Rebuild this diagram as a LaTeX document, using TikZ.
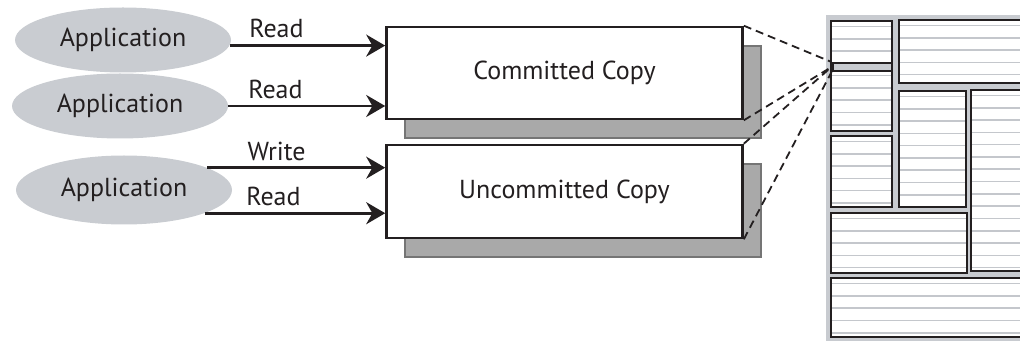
\documentclass[tikz,border=0pt]{standalone}
\usepackage{fontspec}
\setmainfont{PT Sans}
\usepackage{xcolor}
\usetikzlibrary{shapes,arrows,positioning,calc,shadows,arrows.meta}

\definecolor{appgray}{HTML}{C9CCD1}
\definecolor{copyshadow}{HTML}{A9A9A9}
\definecolor{shadowedge}{HTML}{757575}
\definecolor{pagegray}{HTML}{C8CBD0}
\definecolor{rowgray}{HTML}{C4C7CC}
\definecolor{ink}{HTML}{231F20}

\begin{document}
\begin{tikzpicture}[x=0.5pt,y=-0.5pt,
    txt/.style={font=\fontsize{13}{15}\selectfont, text=ink},
    app/.style={ellipse, fill=appgray, minimum width=108pt, minimum height=32.5pt, inner sep=0pt, txt},
    copybox/.style={draw=ink, line width=1.3pt, fill=white, minimum width=178pt, minimum height=46pt, txt,
        general shadow={shadow xshift=9.25pt, shadow yshift=-9.5pt, fill=copyshadow, draw=shadowedge, line width=1pt}},
    flow/.style={draw=ink, line width=1.3pt, -{Stealth[length=9.5pt,width=11pt]}},
    oplabel/.style={txt, inner sep=3pt},
    zoomline/.style={draw=ink, line width=0.9pt, dash pattern=on 4pt off 2.5pt},
    rowline/.style={draw=rowgray, line width=0.8pt},
    pagebox/.style={draw=ink, line width=1pt},
    hlbar/.style={draw=ink, line width=1pt, fill=pagegray, minimum width=29.5pt, minimum height=4pt, inner sep=0pt}]
    \useasboundingbox (0,0) rectangle (1020,341);

    % Applications
    \node[app] (app1) at (123,40) {Application};
    \node[app] (app2) at (120,106) {Application};
    \node[app, minimum height=34.5pt] (app3) at (124,190) {Application};

    % Copies
    \node[copybox] (committed) at (564.5,73) {Committed Copy};
    \node[copybox, minimum height=46.5pt] (uncommitted) at (564.5,191.5) {Uncommitted Copy};

    % Access
    \draw[flow] (app1.-3) -- (app1.-3 -| committed.west) node[oplabel, pos=0.3, above] {Read};
    \draw[flow] (app2.east) -- (app2.east -| committed.west) node[oplabel, pos=0.3, above] {Read};
    \draw[flow] (app3.15) -- (app3.15 -| uncommitted.west) node[oplabel, pos=0.39, above] {Write};
    \draw[flow] (app3.-16) -- (app3.-16 -| uncommitted.west) node[oplabel, pos=0.38, above] {Read};

    % Page layout
    \fill[pagegray] (826,15) rectangle (1030,342);
    \foreach \xa/\ya/\xb/\yb in {831/21/892/131, 899/20/1030/83, 831/136/892/207, 899/91/966/207,
                                 971/90/1030/271, 831/213/967/273, 831/278/1030/337} {
        \fill[white] (\xa,\ya) rectangle (\xb,\yb);
        \begin{scope}
            \clip (\xa,\ya) rectangle (\xb,\yb);
            \foreach \dy in {5.5,17.8,...,260} \draw[rowline] (\xa,\ya+\dy) -- (\xb,\ya+\dy);
        \end{scope}
        \draw[pagebox] (\xa,\ya) rectangle (\xb,\yb);
    }
    \node[hlbar] (hl) at (862,67) {};

    % Zoom lines
    \draw[zoomline] (committed.north east) -- (hl.north west);
    \draw[zoomline] (committed.south east) -- (hl.west);
    \draw[zoomline] (uncommitted.north east) -- (hl.west);
    \draw[zoomline] (uncommitted.south east) -- (hl.south west);
\end{tikzpicture}
\end{document}
